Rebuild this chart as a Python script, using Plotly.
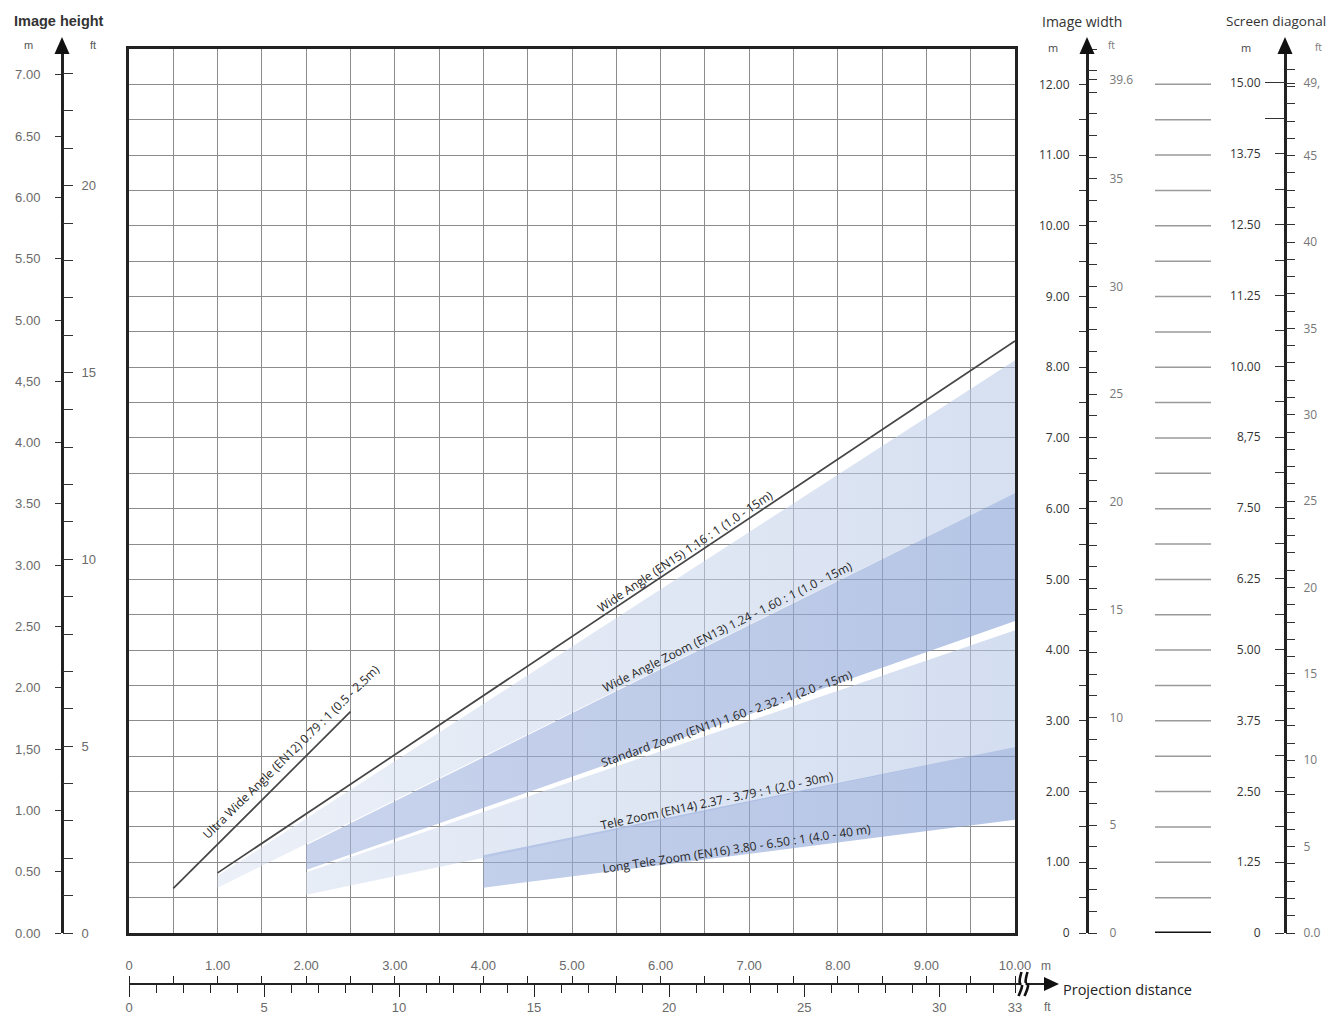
import plotly.graph_objects as go

W, H = 1331, 1020
def px(x): return x / W
def py(y): return 1 - y / H

# ---------------- data ----------------
# projection distance (m) vs image width (m)
en12_dist = [0.5, 2.5];  en12_width = [0.63, 3.13]
en15_dist = [1.0, 10.0]; en15_width = [0.85, 8.37]
en13_dist = [1.0, 10.0]; en13_upper = [0.81, 8.10]; en13_lower = [0.64, 6.22]
en11_dist = [2.0, 10.0]; en11_upper = [1.24, 6.22]; en11_lower = [0.89, 4.41]
en14_dist = [2.0, 10.0]; en14_upper = [0.86, 4.28]; en14_lower = [0.54, 2.63]
en16_dist = [4.0, 10.0]; en16_upper = [1.10, 2.63]; en16_lower = [0.64, 1.60]

lens_labels = [
    "Ultra Wide Angle (EN12) 0.79 : 1 (0.5 - 2.5m)",
    "Wide Angle (EN15) 1.16 : 1 (1.0 - 15m)",
    "Wide Angle Zoom (EN13) 1.24 - 1.60 : 1 (1.0 - 15m)",
    "Standard Zoom (EN11) 1.60 - 2.32 : 1 (2.0 - 15m)",
    "Tele Zoom (EN14) 2.37 - 3.79 : 1 (2.0 - 30m)",
    "Long Tele Zoom (EN16) 3.80 - 6.50 : 1 (4.0 - 40 m)",
]

# axis tick values / labels
proj_m_vals = [i * 0.5 for i in range(21)]
proj_m_text = ["0"] + [("%.2f" % v if v == int(v) else "") for v in proj_m_vals[1:]]
proj_ft_vals = list(range(33)) + [32.81]
proj_ft_text = [(str(v) if v % 5 == 0 else "") for v in range(33)] + ["33"]
proj_ft_major = [0, 5, 10, 15, 20, 25, 30]

height_m_vals = [i * 0.5 for i in range(15)]
height_m_text = ["0.00", "0.50", "1.00", "1,50", "2.00", "2.50", "3.00", "3.50",
                 "4.00", "4,50", "5.00", "5.50", "6.00", "6.50", "7.00"]
height_ft_vals = list(range(24))
height_ft_text = [(str(v) if v % 5 == 0 else "") for v in height_ft_vals]

width_m_vals = [i * 0.5 for i in range(25)]
width_m_text = ["0"] + [("%.2f" % v if v == int(v) else "") for v in width_m_vals[1:]]
width_ft_vals = list(range(42)) + [39.6]
width_ft_text = [(str(v) if v % 5 == 0 and v < 40 else "") for v in range(42)] + ["39.6"]

diag_m_vals = [i * 0.625 for i in range(25)]
diag_m_labels = ["0", "1.25", "2.50", "3.75", "5.00", "6.25", "7.50", "8,75",
                 "10.00", "11.25", "12.50", "13.75", "15.00"]
diag_m_text = [(diag_m_labels[i // 2] if i % 2 == 0 else "") for i in range(25)]
diag_ft_vals = list(range(51)) + [49.2]
diag_ft_text = [("0.0" if v == 0 else (str(v) if v % 5 == 0 and v < 50 else "")) for v in range(51)] + ["49,"]

mid_lines = [i * 0.5 for i in range(1, 25)]

# ---------------- geometry ----------------
LEFT, RIGHT, TOP, BOTTOM = 129, 1015, 49, 933
X_DOM = [px(LEFT), px(RIGHT)]
Y_DOM = [py(BOTTOM), py(TOP)]
Y_MAX = 12.5                    # image width (m) at top of plot
H_MAX = (BOTTOM - TOP) / 122.6  # image height (m) scale
D_MAX = (BOTTOM - TOP) / 56.67  # screen diagonal (m) scale
FT = 0.3048

fig = go.Figure()

def band(dist, upper, lower, c0, c1):
    fig.add_trace(go.Scatter(
        x=dist + dist[::-1], y=upper + lower[::-1], fill="toself", mode="lines",
        line=dict(width=0, color="rgba(0,0,0,0)"), fillcolor=c1,
        fillgradient=dict(type="horizontal", colorscale=[[0, c0], [1, c1]]),
        hoverinfo="skip", showlegend=False))

band(en13_dist, en13_upper, en13_lower, "rgba(220,228,242,0.55)", "rgba(182,199,230,0.55)")
band(en11_dist, en11_upper, en11_lower, "rgba(165,182,224,0.6)", "rgba(140,165,215,0.64)")
band(en14_dist, en14_upper, en14_lower, "rgba(212,222,240,0.55)", "rgba(180,198,230,0.58)")
band(en16_dist, en16_upper, en16_lower, "rgba(155,176,221,0.6)", "rgba(138,163,214,0.64)")

for d, w in [(en12_dist, en12_width), (en15_dist, en15_width)]:
    fig.add_trace(go.Scatter(x=d, y=w, mode="lines", line=dict(color="#454545", width=1.7),
                             hoverinfo="skip", showlegend=False))

label_pos = [(1.83, 2.57, -44.5), (6.27, 5.40, -33.8), (6.76, 4.33, -26.5),
             (6.75, 3.03, -19.5), (6.64, 1.88, -12.0), (6.86, 1.20, -8.5)]
for txt_, (lx, ly, ang) in zip(lens_labels, label_pos):
    fig.add_annotation(x=lx, y=ly, xref="x", yref="y", text=txt_, textangle=ang,
                       showarrow=False, font=dict(family="Open Sans", size=12, color="#262626"))

# --------------- axes ----------------
gridc = "#8c8c8c"
main_ax = dict(showgrid=True, gridcolor=gridc, gridwidth=1.4, zeroline=False,
               showline=True, mirror=True, linecolor="#222", linewidth=3,
               ticks="", showticklabels=False, dtick=0.5, tick0=0, automargin=False)
fig.update_layout(
    width=W, height=H, margin=dict(l=0, r=0, t=0, b=0, pad=0, autoexpand=False),
    paper_bgcolor="white", plot_bgcolor="white", showlegend=False,
    xaxis=dict(domain=X_DOM, range=[0, 10], **main_ax),
    yaxis=dict(domain=Y_DOM, range=[0, Y_MAX], **main_ax),
)

lf = dict(family="Liberation Sans", size=13, color="#6a6a6a")
of = dict(family="Open Sans", size=12, color="#333")
ofl = dict(family="Open Sans", size=12, color="#777")

def yfree(pos, side, rng, vals, text, ticklen, font, standoff, line=False, lw=3):
    return dict(overlaying="y", anchor="free", position=pos, side=side, range=rng,
                tickmode="array", tickvals=vals, ticktext=text, ticks="outside",
                ticklen=ticklen, tickwidth=1.3, tickcolor="#333", automargin=False,
                showline=line, linecolor="#222", linewidth=lw,
                showgrid=False, zeroline=False, tickfont=font, ticklabelstandoff=standoff)

fig.update_layout(
    yaxis2=yfree(px(62), "left", [0, H_MAX], height_m_vals, height_m_text, 6, lf, 12, line=True),
    yaxis3=yfree(px(62), "right", [0, H_MAX / FT], height_ft_vals, height_ft_text, 10, lf, 6),
    yaxis4=yfree(px(1087), "left", [0, Y_MAX], width_m_vals, width_m_text, 7, of, 7, line=True),
    yaxis5=yfree(px(1087), "right", [0, Y_MAX / FT], width_ft_vals, width_ft_text, 9, ofl, 10),
    yaxis6=yfree(px(1285), "left", [0, D_MAX], diag_m_vals, diag_m_text, 9, of, 12, line=True),
    yaxis7=yfree(px(1285), "left", [0, D_MAX], [14.375, 15.0], ["", ""], 20, of, 0),
    yaxis8=yfree(px(1285), "right", [0, D_MAX / FT], diag_ft_vals, diag_ft_text, 9, ofl, 6),
)

BASE = 984
def xfree(side, rng, vals, text, ticklen, font, standoff, line=False):
    return dict(overlaying="x", anchor="free", position=py(BASE), side=side, range=rng,
                tickmode="array", tickvals=vals, ticktext=text, ticks="outside",
                ticklen=ticklen, tickwidth=1.3, tickcolor="#222", automargin=False,
                showline=line, linecolor="#222", linewidth=2,
                showgrid=False, zeroline=False, tickfont=font, ticklabelstandoff=standoff)

fig.update_layout(
    xaxis2=xfree("top", [0, 10], proj_m_vals, proj_m_text, 7, lf, 1, line=True),
    xaxis3=xfree("bottom", [0, 10 / FT], proj_ft_vals, proj_ft_text, 8, lf, 3),
    xaxis4=xfree("bottom", [0, 10 / FT], proj_ft_major, ["" for _ in proj_ft_major], 12, lf, 0),
)

# dummy traces so every overlay axis is rendered
for ya in ["y2", "y3", "y4", "y5", "y6", "y7", "y8"]:
    fig.add_trace(go.Scatter(x=[None], y=[None], yaxis=ya, hoverinfo="skip", showlegend=False))
for xa in ["x2", "x3", "x4"]:
    fig.add_trace(go.Scatter(x=[None], y=[None], xaxis=xa, hoverinfo="skip", showlegend=False))

# --------------- decorations ----------------
shapes = []
def tri_up(xc, tip, base, half):
    return dict(type="path", xref="paper", yref="paper", fillcolor="#111", line=dict(width=0),
                path=f"M {px(xc)},{py(tip)} L {px(xc-half)},{py(base)} L {px(xc+half)},{py(base)} Z")
for xc in (62, 1087, 1285):
    shapes.append(dict(type="line", xref="paper", yref="paper", x0=px(xc), x1=px(xc),
                       y0=py(TOP), y1=py(53), line=dict(color="#222", width=3)))
    shapes.append(tri_up(xc, 37, 54, 7.5))

# bottom axis extension, break and arrow
shapes.append(dict(type="line", xref="paper", yref="paper", x0=px(RIGHT), x1=px(1046),
                   y0=py(BASE), y1=py(BASE), line=dict(color="#222", width=2)))
for bx in (1020, 1026):
    shapes.append(dict(type="path", xref="paper", yref="paper", line=dict(color="#111", width=2.6),
                       path=f"M {px(bx+1.5)},{py(972)} Q {px(bx-2)},{py(984)} {px(bx+1)},{py(984)} T {px(bx-1.5)},{py(996)}"))
shapes.append(dict(type="line", xref="paper", yref="paper", x0=px(1021.5), x1=px(1025.5),
                   y0=py(BASE), y1=py(BASE), line=dict(color="white", width=2)))
shapes.append(dict(type="path", xref="paper", yref="paper", fillcolor="#111", line=dict(width=0),
                   path=f"M {px(1059)},{py(BASE)} L {px(1044)},{py(BASE-7)} L {px(1044)},{py(BASE+7)} Z"))

# middle reference lines
for v in mid_lines:
    shapes.append(dict(type="line", xref="paper", yref="y", x0=px(1155), x1=px(1211),
                       y0=v, y1=v, line=dict(color="#9a9a9a", width=1.5)))
shapes.append(dict(type="line", xref="paper", yref="y", x0=px(1155), x1=px(1211),
                   y0=0, y1=0, line=dict(color="#111", width=3)))
fig.update_layout(shapes=shapes)

def txt(x, y, s, font, xanchor="center"):
    fig.add_annotation(x=px(x), y=py(y), xref="paper", yref="paper", text=s, showarrow=False,
                       xanchor=xanchor, yanchor="middle", font=font)

txt(12, 21, "<b>Image height</b>", dict(family="Liberation Sans", size=14.5, color="#333"), "left")
txt(28, 45, "m", dict(family="Liberation Sans", size=11, color="#555"))
txt(93, 45, "ft", dict(family="Liberation Sans", size=11, color="#555"))
txt(1040, 21, "Image width", dict(family="Open Sans", size=14, color="#333"), "left")
txt(1053, 47, "m", dict(family="Open Sans", size=11, color="#444"))
txt(1111, 45, "ft", dict(family="Open Sans", size=10, color="#777"))
txt(1224, 21, "Screen diagonal", dict(family="Open Sans", size=13.5, color="#333"), "left")
txt(1246, 47, "m", dict(family="Open Sans", size=11, color="#444"))
txt(1318, 47, "ft", dict(family="Open Sans", size=10, color="#777"))
txt(1046, 966, "m", dict(family="Liberation Sans", size=12, color="#666"))
txt(1047, 1007, "ft", dict(family="Liberation Sans", size=12, color="#666"))
txt(1061, 989, "Projection distance", dict(family="Open Sans", size=14.5, color="#222"), "left")

fig.write_html("out.html")
